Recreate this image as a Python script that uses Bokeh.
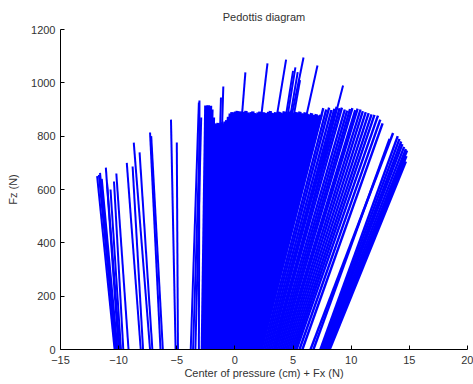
from bokeh.plotting import figure
from bokeh.models import Range1d, FixedTicker
from bokeh.embed import file_html
from bokeh.resources import INLINE

# Each line: center of pressure at the ground (cm) -> tip (cop + Fx, scaled) at height Fz (N)

# swing-in / heel-strike lines (left side)
cop_left = [
    -10.35, -10.25, -10.20, -10.10, -10.00, -9.90, -9.80, -9.60, -9.15,
    -8.10, -7.90, -7.30, -7.10, -6.40, -6.20, -5.10, -4.90,
    -3.80, -3.60, -3.40, -3.10,
]
tip_left = [
    -11.85, -11.70, -11.60, -11.45, -11.10, -11.00, -10.70, -10.40, -10.20,
    -9.30, -8.80, -8.70, -8.20, -7.30, -7.20, -5.50, -5.00,
    -3.10, -3.00, -2.90, -3.05,
]
fz_left = [
    650, 655, 662, 640, 682, 625, 600, 630, 660,
    700, 686, 776, 739, 814, 800, 862, 776,
    926, 820, 870, 934,
]

# dense mid-stance block
cop_mid = [
    -2.80, -2.72, -2.65, -2.57, -2.50, -2.42, -2.35, -2.27, -2.20, -2.12,
    -2.05, -1.97, -1.90, -1.82, -1.75, -1.67, -1.60, -1.52, -1.45, -1.37,
    -1.30, -1.22, -1.15, -1.07, -1.00, -0.92, -0.85, -0.77, -0.70, -0.62,
    -0.55, -0.47, -0.40, -0.32, -0.25, -0.17, -0.10, -0.02, 0.05, 0.13,
    0.20, 0.28, 0.35, 0.43, 0.50, 0.58, 0.65, 0.73, 0.80, 0.88,
    0.95, 1.03, 1.10, 1.18, 1.25, 1.33, 1.40, 1.48, 1.55, 1.63,
    1.70, 1.78, 1.85, 1.93, 2.00, 2.08, 2.15,
]
tip_mid = [
    -2.50, -2.40, -2.30, -2.20, -2.10, -1.98, -1.85, -1.72, -1.60, -1.45,
    -1.30, -1.15, -1.00, -0.85, -0.70, -0.55, -0.40, -0.25, -0.10, 0.05,
    0.20, 0.35, 0.50, 0.65, 0.80, 0.95, 1.10, 1.25, 1.40, 1.55,
    1.70, 1.85, 2.00, 2.15, 2.30, 2.45, 2.60, 2.75, 2.90, 3.05,
    3.20, 3.35, 3.50, 3.65, 3.80, 3.95, 4.10, 4.25, 4.40, 4.55,
    4.70, 4.85, 5.00, 5.15, 5.30, 5.45, 5.60, 5.75, 5.90, 6.05,
    6.20, 6.40, 6.60, 6.80, 7.00, 7.20, 7.40,
]
fz_mid = [
    915, 912, 916, 910, 914, 900, 870, 848, 845, 850,
    846, 852, 848, 855, 860, 872, 885, 890, 888, 892,
    895, 890, 893, 888, 891, 895, 889, 886, 890, 893,
    887, 884, 889, 892, 886, 890, 888, 885, 891, 894,
    888, 885, 890, 887, 892, 889, 885, 893, 890, 886,
    891, 895, 888, 885, 890, 887, 892, 886, 884, 889,
    885, 882, 886, 880, 883, 878, 880,
]

# peak lines rising above the block
cop_peak = [-1.80, -1.70, -1.00, -0.10, 0.30, 0.80, 1.20, 1.30, 1.40, 1.50, 1.70, 3.40]
tip_peak = [-1.20, -1.00, 0.90, 2.80, 4.40, 5.90, 5.00, 5.20, 5.40, 5.60, 7.10, 9.30]
fz_peak = [945, 986, 1039, 1073, 1087, 1095, 1045, 1058, 1040, 1010, 1065, 990]

# push-off lines (right side)
cop_right = [
    2.30, 2.45, 2.60, 2.75, 2.90, 3.05, 3.20, 3.35, 3.50, 3.65,
    3.80, 3.95, 4.10, 4.25, 4.40, 4.55, 4.70, 4.85, 5.00, 5.15,
    5.30, 5.55, 5.80, 6.50, 6.75, 7.35, 7.45, 7.55, 7.65, 7.75,
    7.85, 7.95, 8.05, 8.15,
]
tip_right = [
    7.60, 7.85, 8.10, 8.30, 8.55, 8.75, 9.00, 9.20, 9.45, 9.65,
    9.90, 10.10, 10.35, 10.55, 10.80, 11.00, 11.25, 11.50, 11.75, 12.00,
    12.30, 12.50, 12.70, 13.60, 13.30, 14.00, 14.15, 14.30, 14.40, 14.55,
    14.70, 14.80, 14.75, 14.70,
]
fz_right = [
    905, 900, 907, 898, 903, 910, 905, 907, 900, 896,
    902, 905, 898, 903, 900, 894, 890, 886, 882, 880,
    877, 862, 848, 812, 790, 800, 790, 780, 770, 760,
    752, 746, 725, 705,
]

x_ticks = [-15, -10, -5, 0, 5, 10, 15, 20]
y_ticks = [0, 200, 400, 600, 800, 1000, 1200]

p = figure(width=473, height=384, output_backend="svg", toolbar_location=None,
           x_range=Range1d(-15, 20), y_range=Range1d(0, 1200),
           title="Pedottis diagram",
           min_border_left=60, min_border_right=6, min_border_top=29, min_border_bottom=35)

BLUE = "#0000ff"
p.segment(x0=cop_mid, y0=[0] * len(cop_mid), x1=tip_mid, y1=fz_mid,
          line_color=BLUE, line_width=3.4)
p.segment(x0=cop_right, y0=[0] * len(cop_right), x1=tip_right, y1=fz_right,
          line_color=BLUE, line_width=2.4)
for c, t, f in ((cop_left, tip_left, fz_left), (cop_peak, tip_peak, fz_peak)):
    p.segment(x0=c, y0=[0] * len(c), x1=t, y1=f, line_color=BLUE, line_width=2.0)

p.xgrid.visible = False
p.ygrid.visible = False
p.outline_line_color = None
p.background_fill_color = "white"
p.border_fill_color = "white"

p.title.align = "center"
p.title.vertical_align = "top"
p.title.text_font = "Liberation Sans"
p.title.text_font_size = "11px"
p.title.text_font_style = "normal"
p.title.text_color = "#333333"
p.title.standoff = 10

for ax, ticks in ((p.xaxis[0], x_ticks), (p.yaxis[0], y_ticks)):
    ax.ticker = FixedTicker(ticks=ticks)
    ax.major_tick_in = 4
    ax.major_tick_out = 0
    ax.minor_tick_in = 0
    ax.minor_tick_out = 0
    ax.axis_line_color = "black"
    ax.major_tick_line_color = "black"
    ax.major_label_text_font = "Liberation Sans"
    ax.major_label_text_font_size = "11px"
    ax.major_label_text_color = "#333333"
    ax.axis_label_text_font = "Liberation Sans"
    ax.axis_label_text_font_size = "11px"
    ax.axis_label_text_font_style = "normal"
    ax.axis_label_text_color = "#333333"

p.xaxis.axis_label = "Center of pressure (cm) + Fx (N)"
p.yaxis.axis_label = "Fz (N)"
p.xaxis.major_label_standoff = 6
p.xaxis.axis_label_standoff = 0
p.yaxis.major_label_standoff = 5
p.yaxis.axis_label_standoff = 9

open("out.html", "w").write(file_html(p, INLINE))
